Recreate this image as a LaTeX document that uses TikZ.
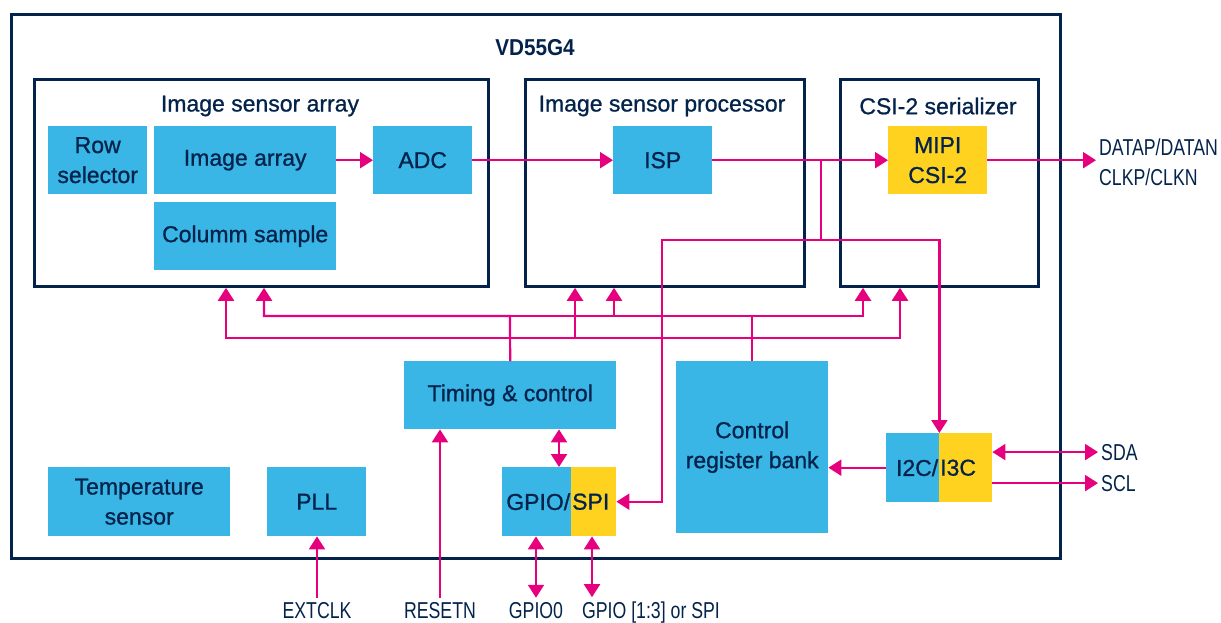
\documentclass[tikz,border=0pt]{standalone}
\usepackage{fontspec}
\setmainfont{Liberation Sans}
\newfontfamily\boxfont[FakeBold=0.9]{Liberation Sans}
\newfontfamily\narrowfont[FakeStretch=0.77]{Liberation Sans}
\newfontfamily\titlefont[FakeStretch=0.9]{Liberation Sans}
\usetikzlibrary{arrows.meta}
\definecolor{stblue}{HTML}{39B5E6}
\definecolor{styellow}{HTML}{FFD220}
\definecolor{stpink}{HTML}{E6007E}
\definecolor{stnavy}{HTML}{03234B}
\begin{document}
\begin{tikzpicture}[x=1pt,y=-1pt,
    blk/.style={fill=stblue,text=stnavy,anchor=north west,inner sep=0pt,align=center,
      font=\boxfont\fontsize{23}{30}\selectfont},
    ylw/.style={blk,fill=styellow},
    frame/.style={draw=stnavy,line width=2.8pt,anchor=north west,inner sep=0pt},
    ttl/.style={text=stnavy,font=\boxfont\fontsize{23}{30}\selectfont},
    pin/.style={text=stnavy,inner xsep=3pt,inner ysep=4pt,font=\narrowfont\fontsize{23}{28}\selectfont},
    sig/.style={draw=stpink,line width=2.2pt},
    arr/.style={sig,-{Triangle[length=13pt,width=16pt]}},
    darr/.style={sig,{Triangle[length=13pt,width=16pt]}-{Triangle[length=13pt,width=16pt]}}]
  \useasboundingbox (0,0) rectangle (1221,622);

  % frames
  \node[frame,minimum width=1049pt,minimum height=544pt] (chip) at (10,13) {};
  \node[frame,minimum width=454pt,minimum height=207pt] (isa) at (33,78) {};
  \node[frame,minimum width=279pt,minimum height=207pt] (ispf) at (524,78) {};
  \node[frame,minimum width=198pt,minimum height=207pt] (csi) at (839,78) {};
  \node[ttl] (chipname) at (535,48) {\titlefont\bfseries VD55G4};
  \node[ttl] (isatitle) at (260,106) {Image sensor array};
  \node[ttl] (isptitle) at (662,106) {Image sensor processor};
  \node[ttl] (csititle) at (938,106) {CSI-2 serializer};

  % blocks
  \node[blk,minimum width=99pt,minimum height=68pt] (rowsel) at (48,126) {Row\\selector};
  \node[blk,minimum width=182pt,minimum height=68pt] (imgarr) at (154,126) {Image array};
  \node[blk,minimum width=182pt,minimum height=68pt] (colsmp) at (154,202) {Columm sample};
  \node[blk,minimum width=99pt,minimum height=68pt] (adc) at (373,126) {ADC};
  \node[blk,minimum width=99pt,minimum height=68pt] (isp) at (613,126) {ISP};
  \node[ylw,minimum width=99pt,minimum height=68pt] (mipi) at (888,126) {MIPI\\CSI-2};
  \node[blk,minimum width=212pt,minimum height=68pt] (timing) at (404,361) {Timing \& control};
  \node[blk,minimum width=152pt,minimum height=172pt] (ctrlreg) at (676,361) {Control\\register bank};
  \node[blk,minimum width=69pt,minimum height=69pt,text width=67pt,align=right] (gpio) at (502,467) {GPIO/};
  \node[ylw,minimum width=45pt,minimum height=69pt,text width=43pt,align=left] (spi) at (571,467) {SPI};
  \node[blk,minimum width=53pt,minimum height=69pt,text width=51pt,align=right] (i2c) at (886,433) {I2C/};
  \node[ylw,minimum width=53pt,minimum height=69pt,text width=51pt,align=left] (i3c) at (939,433) {I3C};
  \node[blk,minimum width=182pt,minimum height=69pt] (temp) at (48,467) {Temperature\\sensor};
  \node[blk,minimum width=99pt,minimum height=69pt] (pll) at (267,467) {PLL};

  % pins
  \node[pin,anchor=base] (extclk) at (317,618) {EXTCLK};
  \node[pin,anchor=base] (resetn) at (440,618) {RESETN};
  \node[pin,anchor=base] (gpio0) at (536,618) {GPIO0};
  \node[pin,anchor=base] (gpiox) at (651,618) {GPIO [1:3] or SPI};
  \node[pin,anchor=base west] (datap) at (1096,155) {DATAP/DATAN};
  \node[pin,anchor=base west] (clkp) at (1096,185) {CLKP/CLKN};
  \node[pin,anchor=base west] (sda) at (1098,460) {SDA};
  \node[pin,anchor=base west] (scl) at (1098,491) {SCL};

  % data path
  \draw[arr] (imgarr) -- (adc);
  \draw[arr] (adc) -- (isp);
  \draw[arr] (isp) -- (mipi);
  \draw[arr] (mipi) -- (mipi.east -| datap.west);
  \coordinate (tap) at (821,160);
  \coordinate (fork) at (821,240);
  \draw[sig] (tap) -- (fork);
  \draw[arr] (fork) -- (662,240) |- (spi.east);
  \draw[arr] (fork) -| (i2c.north east);

  % control buses
  \coordinate (ubus) at (510,316);
  \coordinate (lbus) at (510,338);
  \draw[arr] (timing.north) -- (ubus) -| (264,0 |- isa.south);
  \draw[arr] (ubus) -| (863,0 |- csi.south);
  \draw[arr] (614,316) -- (614,0 |- ispf.south);
  \draw[arr] (lbus) -| (226,0 |- isa.south);
  \draw[arr] (lbus) -| (900,0 |- csi.south);
  \draw[arr] (575,338) -- (575,0 |- ispf.south);
  \draw[sig] (ctrlreg.north) -- (ctrlreg.north |- ubus);

  % io
  \draw[darr] (559,0 |- timing.south) -- (559,0 |- gpio.north);
  \draw[arr] (resetn.north) -- (resetn.north |- timing.south);
  \draw[darr] (gpio0.north) -- (gpio0.north |- gpio.south);
  \draw[darr] (592,0 |- gpiox.north) -- (592,0 |- spi.south);
  \draw[arr] (extclk.north) -- (extclk.north |- pll.south);
  \draw[arr] (i2c.west) -- (ctrlreg.east |- i2c.west);
  \draw[darr] (i3c.east |- sda.west) -- (sda.west);
  \draw[arr] (i3c.east |- scl.west) -- (scl.west);
\end{tikzpicture}
\end{document}
